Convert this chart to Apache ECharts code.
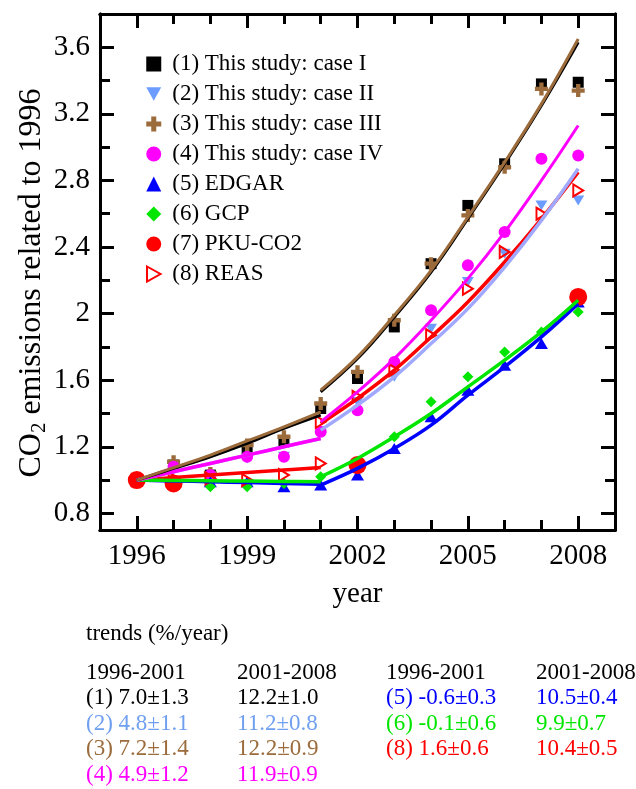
<!DOCTYPE html>
<html>
<head>
<meta charset="utf-8">
<script src="https://cdn.jsdelivr.net/npm/echarts@6/dist/echarts.min.js"></script>
<style>
  html, body { margin: 0; padding: 0; background: #fff; }
  #chart { width: 636px; height: 789px; }
</style>
</head>
<body>
<div id="chart"></div>
<script>
// ---- data -------------------------------------------------------------
const years = [1996, 1997, 1998, 1999, 2000, 2001, 2002, 2003, 2004, 2005, 2006, 2007, 2008];
const labelYears = [1996, 1999, 2002, 2005, 2008];

const caseI   = [1.00, 1.09, 1.03, 1.19, 1.23, 1.43, 1.61, 1.92, 2.30, 2.65, 2.90, 3.38, 3.39];
const caseII  = [1.00, 1.06, 1.02, 1.13, 1.14, 1.29, 1.47, 1.62, 1.91, 2.19, 2.36, 2.65, 2.68];
const caseIII = [1.00, 1.11, 1.04, 1.21, 1.26, 1.46, 1.65, 1.96, 2.30, 2.59, 2.88, 3.35, 3.34];
const caseIV  = [1.00, 1.08, 1.03, 1.14, 1.14, 1.29, 1.42, 1.71, 2.02, 2.29, 2.49, 2.93, 2.95];
const edgar   = [1.00, 0.99, 0.99, 0.99, 0.96, 0.97, 1.03, 1.19, 1.38, 1.54, 1.69, 1.82, 2.07];
const gcp     = [1.00, 0.99, 0.96, 0.96, 0.98, 1.02, 1.07, 1.26, 1.47, 1.62, 1.77, 1.89, 2.01];

const pkuYears = [1996, 1997, 2002, 2008];
const pku      = [1.00, 0.98, 1.09, 2.10];

const reasYears = [1996, 1997, 1998, 1999, 2000, 2001, 2001, 2002, 2003, 2004, 2005, 2006, 2007, 2008];
const reas      = [1.00, 1.01, 1.01, 1.00, 1.03, 1.10, 1.35, 1.50, 1.66, 1.87, 2.15, 2.37, 2.60, 2.74];

// exponential trend curves, sampled yearly over the two periods
const fitYears1 = [1996, 1997, 1998, 1999, 2000, 2001];
const fitYears2 = [2001, 2002, 2003, 2004, 2005, 2006, 2007, 2008];
const fitI_1   = [1.00, 1.07, 1.14, 1.22, 1.31, 1.39];
const fitI_2   = [1.53, 1.73, 1.98, 2.25, 2.57, 2.90, 3.25, 3.63];
const fitII_1  = [1.00, 1.05, 1.10, 1.15, 1.20, 1.25];
const fitII_2  = [1.30, 1.45, 1.62, 1.82, 2.03, 2.28, 2.56, 2.87];
const fitIII_1 = [1.00, 1.075, 1.15, 1.235, 1.32, 1.41];
const fitIII_2 = [1.54, 1.74, 1.99, 2.26, 2.58, 2.91, 3.26, 3.65];
const fitIV_1  = [1.00, 1.05, 1.10, 1.15, 1.20, 1.25];
const fitIV_2  = [1.35, 1.53, 1.73, 1.96, 2.21, 2.49, 2.80, 3.13];
const fitV_1   = [1.00, 0.995, 0.99, 0.985, 0.98, 0.975];
const fitV_2   = [0.97, 1.07, 1.19, 1.33, 1.51, 1.68, 1.86, 2.06];
const fitVI_1  = [1.00, 0.998, 0.996, 0.994, 0.992, 0.99];
const fitVI_2  = [1.02, 1.13, 1.26, 1.40, 1.56, 1.72, 1.89, 2.08];
const fitVIII_1 = [1.00, 1.015, 1.03, 1.045, 1.06, 1.075];
const fitVIII_2 = [1.34, 1.49, 1.66, 1.86, 2.07, 2.31, 2.57, 2.85];

const yMajorTicks = [0.8, 1.2, 1.6, 2, 2.4, 2.8, 3.2, 3.6];
const yMinorTicks = [1.0, 1.4, 1.8, 2.2, 2.6, 3.0, 3.4];

const seriesNames = [
  '(1) This study: case I',
  '(2) This study: case II',
  '(3) This study: case III',
  '(4) This study: case IV',
  '(5) EDGAR',
  '(6) GCP',
  '(7) PKU-CO2',
  '(8) REAS'
];

const trendTitle = 'trends (%/year)';
const trendHeads = ['1996-2001', '2001-2008', '1996-2001', '2001-2008'];
const trendLeftA  = ['(1) 7.0±1.3', '(2) 4.8±1.1', '(3) 7.2±1.4', '(4) 4.9±1.2'];
const trendLeftB  = ['12.2±1.0', '11.2±0.8', '12.2±0.9', '11.9±0.9'];
const trendRightA = ['(5) -0.6±0.3', '(6) -0.1±0.6', '(8) 1.6±0.6'];
const trendRightB = ['10.5±0.4', '9.9±0.7', '10.4±0.5'];

// ---- styling -----------------------------------------------------------
const FONT = '"Liberation Serif", "Times New Roman", serif';
const C = {
  black: '#000000',
  lightblue: '#6c9cff',
  lightblueLine: '#a0a8ff',
  lightblueText: '#6f9fef',
  brown: '#9b6b3b',
  magenta: '#ff00ff',
  blue: '#0000ff',
  green: '#00e600',
  red: '#ff0000'
};

const PLUS = 'path://M4,0H8V4H12V8H8V12H4V8H0V4H4Z';
const TRI_DOWN = 'path://M0,0L10,0L5,9Z';
const TRI_RIGHT = 'path://M0,0L9,5L0,10Z';

const pairs = (xs, ys) => xs.map((x, i) => [x, ys[i]]);

function scatter(name, xs, ys, symbol, size, itemStyle) {
  return {
    type: 'scatter', name, data: pairs(xs, ys),
    symbol, symbolSize: size, symbolKeepAspect: true,
    itemStyle: Object.assign({ opacity: 1 }, itemStyle), z: 2, silent: true
  };
}
function fit(xs, ys, color, width, z) {
  return {
    type: 'line', data: pairs(xs, ys), smooth: 0.4,
    showSymbol: false, symbol: 'none', silent: true,
    lineStyle: { color, width }, z: z
  };
}

function xAxisDef(position, ticks, len, labels) {
  return {
    type: 'value', min: 1995, max: 2009, position,
    axisLine: { show: true, lineStyle: { color: '#000', width: 3 } },
    axisTick: { show: true, inside: true, length: len, customValues: ticks,
                lineStyle: { color: '#000', width: 3 } },
    axisLabel: labels ? {
      show: true, customValues: labels, formatter: v => String(v),
      fontSize: 29, fontFamily: FONT, color: '#000', margin: 12
    } : { show: false },
    splitLine: { show: false }
  };
}
function yAxisDef(position, ticks, len, labels) {
  return {
    type: 'value', min: 0.7, max: 3.8, position,
    axisLine: { show: true, lineStyle: { color: '#000', width: 3 } },
    axisTick: { show: true, inside: true, length: len, customValues: ticks,
                lineStyle: { color: '#000', width: 3 } },
    axisLabel: labels ? {
      show: true, customValues: labels, formatter: v => String(v),
      fontSize: 29, fontFamily: FONT, color: '#000', margin: 10
    } : { show: false },
    splitLine: { show: false }
  };
}

const xBottom = xAxisDef('bottom', years, 10, labelYears);
Object.assign(xBottom, {
  name: 'year', nameLocation: 'middle', nameGap: 50,
  nameTextStyle: { fontSize: 29, fontFamily: FONT, color: '#000' }
});

const chart = echarts.init(document.getElementById('chart'), null, { renderer: 'canvas' });

const legendIcons = ['rect', TRI_DOWN, PLUS, 'circle', 'triangle', 'diamond', 'circle', TRI_RIGHT];

function tableText(x, y, text, color) {
  return {
    type: 'text', x, y, silent: true,
    style: { text, fill: color, font: '23px ' + FONT, align: 'left', verticalAlign: 'middle' }
  };
}

const tableCols = [86, 237, 386, 536];
const tableRows = [698, 723.5, 749, 774.5];
const leftColors = [C.black, C.lightblueText, C.brown, C.magenta];
const rightColors = [C.blue, C.green, C.red];

const graphics = [
  {
    type: 'text', x: 32, y: 283, rotation: Math.PI / 2, silent: true,
    style: {
      text: '{a|CO}{s|2}{a| emissions related to 1996}',
      align: 'center', verticalAlign: 'middle', fill: '#000',
      rich: {
        a: { fontSize: 32, fontFamily: FONT, lineHeight: 36, verticalAlign: 'middle', fill: '#000' },
        s: { fontSize: 21, fontFamily: FONT, lineHeight: 21, verticalAlign: 'bottom', fill: '#000' }
      }
    }
  },
  tableText(tableCols[0], 634, trendTitle, '#000')
];
trendHeads.forEach((t, i) => graphics.push(tableText(tableCols[i], 673, t, '#000')));
trendLeftA.forEach((t, i) => graphics.push(tableText(tableCols[0], tableRows[i], t, leftColors[i])));
trendLeftB.forEach((t, i) => graphics.push(tableText(tableCols[1], tableRows[i], t, leftColors[i])));
trendRightA.forEach((t, i) => graphics.push(tableText(tableCols[2], tableRows[i], t, rightColors[i])));
trendRightB.forEach((t, i) => graphics.push(tableText(tableCols[3], tableRows[i], t, rightColors[i])));

const option = {
  backgroundColor: '#fff',
  animation: false,
  grid: { left: 100, right: 21, top: 14, bottom: 259, containLabel: false, outerBoundsMode: 'none' },
  xAxis: [
    xBottom,
    xAxisDef('bottom', labelYears, 14, null),
    xAxisDef('top', years, 10, null),
    xAxisDef('top', labelYears, 14, null)
  ],
  yAxis: [
    yAxisDef('left', yMajorTicks, 14, yMajorTicks),
    yAxisDef('left', yMinorTicks, 10, null),
    yAxisDef('right', yMajorTicks, 14, null),
    yAxisDef('right', yMinorTicks, 10, null)
  ],
  legend: {
    orient: 'vertical', left: 141, top: 47,
    itemWidth: 15, itemHeight: 15, itemGap: 6,
    selectedMode: false,
    textStyle: { fontFamily: FONT, fontSize: 23, color: '#000', lineHeight: 24, padding: [0, 0, 0, 6] },
    data: seriesNames.map((n, i) => ({ name: n, icon: legendIcons[i] }))
  },
  series: [
    scatter(seriesNames[0], years, caseI, 'rect', 11, { color: C.black }),
    scatter(seriesNames[1], years, caseII, TRI_DOWN, [12, 11], { color: C.lightblue }),
    scatter(seriesNames[2], years, caseIII, PLUS, 13, { color: C.brown }),
    scatter(seriesNames[3], years, caseIV, 'circle', 12, { color: C.magenta }),
    scatter(seriesNames[4], years, edgar, 'triangle', [13, 11], { color: C.blue }),
    scatter(seriesNames[5], years, gcp, 'diamond', 11, { color: C.green }),
    scatter(seriesNames[6], pkuYears, pku, 'circle', 18, { color: C.red }),
    scatter(seriesNames[7], reasYears, reas, TRI_RIGHT, [11, 12],
            { color: 'rgba(255,255,255,0)', borderColor: C.red, borderWidth: 2 }),

    fit(fitYears1, fitV_1, C.blue, 3.5, 3),
    fit(fitYears2, fitV_2, C.blue, 3.5, 3),
    fit(fitYears1, fitVIII_1, C.red, 3.5, 3),
    fit(fitYears2, fitVIII_2, C.red, 3.5, 3),
    fit(fitYears1, fitVI_1, C.green, 3.5, 3),
    fit(fitYears2, fitVI_2, C.green, 3.5, 3),
    fit(fitYears1, fitII_1, C.lightblueLine, 3.5, 3),
    fit(fitYears2, fitII_2, C.lightblueLine, 3.5, 3),
    fit(fitYears1, fitIV_1, C.magenta, 3.5, 3),
    fit(fitYears2, fitIV_2, C.magenta, 3, 3),
    fit(fitYears1, fitI_1, C.black, 3, 3),
    fit(fitYears2, fitI_2, C.black, 3, 3),
    fit(fitYears1, fitIII_1, C.brown, 3, 3),
    fit(fitYears2, fitIII_2, C.brown, 3, 3)
  ],
  graphic: graphics
};

chart.setOption(option);
</script>
</body>
</html>
